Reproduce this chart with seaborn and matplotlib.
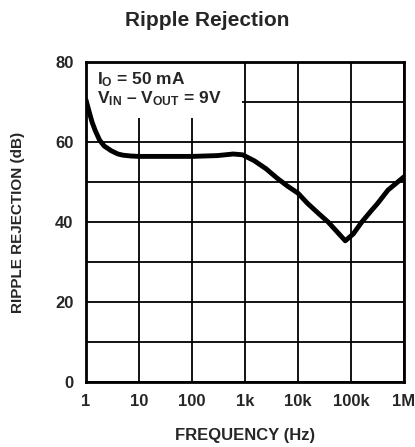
import numpy as np
import pandas as pd
import matplotlib
matplotlib.use("Agg")
import matplotlib.pyplot as plt
from matplotlib.patches import Rectangle
import seaborn as sns

# =====================================================
# DATA
# =====================================================

freq_hz = [1, 1.15, 1.3, 1.5, 1.8, 2.2, 3, 4, 5, 7, 10, 30, 100, 300,
           600, 900, 1500, 2500, 4000, 6300, 10000, 15000, 25000, 37000,
           55000, 78000, 110000, 160000, 230000, 320000, 500000, 1000000]
rejection_db = [70.5, 67.5, 65, 62.8, 60.5, 59, 57.8, 57, 56.7, 56.5, 56.4,
                56.4, 56.4, 56.6, 57, 56.8, 55.3, 53.3, 51, 49, 47.2, 44.7,
                42, 40, 37.5, 35.3, 37, 40, 42.5, 44.7, 48, 51.3]

x_ticks = [1, 10, 100, 1e3, 1e4, 1e5, 1e6]
x_tick_labels = ["1", "10", "100", "1k", "10k", "100k", "1M"]
y_ticks = [0, 20, 40, 60, 80]

df = pd.DataFrame({"Frequency": freq_hz, "Rejection": rejection_db})

# =====================================================
# FIGURE
# =====================================================

sns.set_style("white")
plt.rcParams["font.family"] = ["Liberation Sans", "DejaVu Sans"]
plt.rcParams["mathtext.fontset"] = "custom"
plt.rcParams["mathtext.rm"] = "Liberation Sans:bold"
plt.rcParams["mathtext.it"] = "Liberation Sans:bold"
plt.rcParams["mathtext.bf"] = "Liberation Sans:bold"

fig = plt.figure(figsize=(4.15, 4.47), dpi=100)
ax = fig.add_axes([86 / 415, 1 - 382 / 447, 318 / 415, 320 / 447])

sns.lineplot(data=df, x="Frequency", y="Rejection", ax=ax,
             color="black", linewidth=3.5, zorder=5)

ax.set_xscale("log")
ax.set_xlim(1, 1e6)
ax.set_ylim(0, 80)

ax.set_xticks(x_ticks)
ax.set_xticklabels(x_tick_labels)
ax.xaxis.set_minor_locator(matplotlib.ticker.NullLocator())
ax.set_yticks(y_ticks)
ax.set_yticks(np.arange(0, 81, 10), minor=True)

ax.grid(True, which="major", color="black", linewidth=1.3)
ax.grid(True, which="minor", axis="y", color="black", linewidth=1.3)
ax.tick_params(which="both", length=0, labelsize=12, pad=9)
for lbl in ax.get_xticklabels() + ax.get_yticklabels():
    lbl.set_fontweight("bold")

for s in ax.spines.values():
    s.set_color("black")
    s.set_linewidth(2)
    s.set_zorder(6)

ax.set_xlabel("FREQUENCY (Hz)", fontsize=12, fontweight="bold", labelpad=13)
ax.set_ylabel("RIPPLE REJECTION (dB)", fontsize=11, fontweight="bold", labelpad=22)

fig.text(0.5, 1 - 21 / 447, "Ripple Rejection", ha="center", va="center",
         fontsize=15, fontweight="bold")

# white block hiding the grid behind the conditions text
ax.add_patch(Rectangle((0, 0.825), 0.49, 0.175, transform=ax.transAxes,
                       facecolor="white", edgecolor="none", zorder=3))

ax.text(0.035, 0.975,
        "I$_\\mathrm{O}$ = 50 mA\nV$_\\mathrm{IN}$ \u2013 V$_\\mathrm{OUT}$ = 9V",
        transform=ax.transAxes, ha="left", va="top", fontsize=12.5,
        fontweight="bold", linespacing=1.05, zorder=4)

ax.set_axisbelow(True)

plt.savefig("out.png", dpi=100)
